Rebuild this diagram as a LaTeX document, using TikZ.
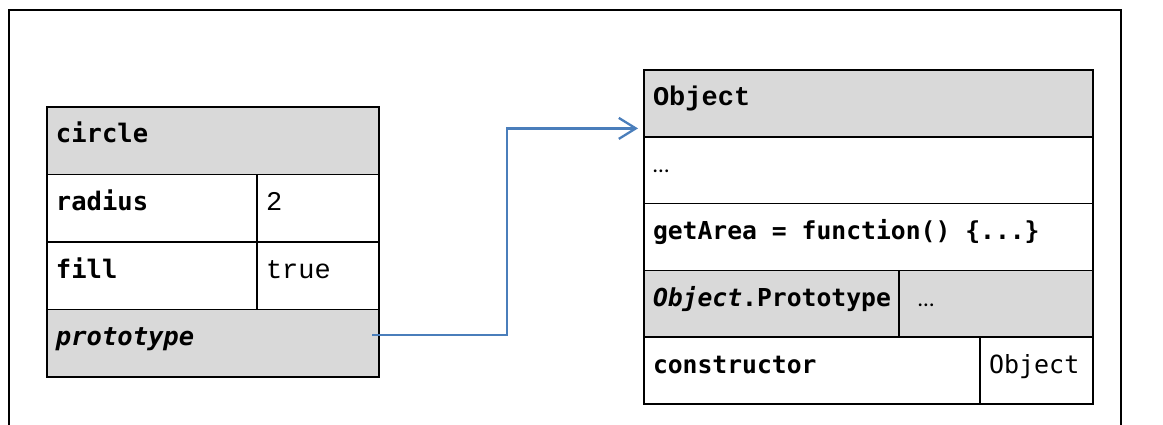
\documentclass[tikz,border=0pt]{standalone}
\usepackage{fontspec}
\usetikzlibrary{arrows.meta,calc}
\newfontfamily\codefont{DejaVu Sans Mono}
\newfontfamily\courfont{Liberation Mono}
\newfontfamily\bodyfont{Carlito}
\definecolor{cellgray}{HTML}{D9D9D9}
\definecolor{linkblue}{HTML}{4A7EBB}
% one full character cell of the code font
\newcommand\gap{\hspace*{0.602em}}
\tikzset{
  cell/.style={draw=black,line width=1.6pt,rectangle,anchor=north west,outer sep=0pt,
    inner xsep=9pt,inner ysep=0pt,text height=36pt,align=left},
  head/.style={cell,fill=cellgray},
  key/.style={font=\codefont\bfseries\fontsize{#1}{30}\selectfont},
  key/.default=25.5,
  plain/.style={font=\codefont\fontsize{25}{30}\selectfont},
  val/.style={font=\courfont\fontsize{27}{32}\selectfont},
  title/.style={font=\courfont\bfseries\fontsize{27}{32}\selectfont},
  dots/.style={font=\bodyfont\fontsize{23}{26}\selectfont},
  link/.style={draw=linkblue,line width=2.3pt,-{Straight Barb[length=17pt,width=21pt]}},
  frame/.style={draw=black,line width=1.8pt}
}
\begin{document}
\begin{tikzpicture}[x=1pt,y=-1pt]
\useasboundingbox (0,0) rectangle (1163,425);
\draw[frame] (9,425) |- (1121,10) -- (1121,425);

% the circle object
\begin{scope}[text depth=31.5pt]
\node[head,key,text width=314pt] (circ) at (47,107) {circle};
\node[cell,key,text width=192pt] (rad) at (circ.south west) {radius};
\node[cell,val,text width=104pt] (radval) at (rad.north east) {2};
\node[cell,key,text width=192pt] (fil) at (rad.south west) {fill};
\node[cell,val,text width=104pt] (filval) at (fil.north east) {true};
\node[head,key,text width=314pt] (proto) at (fil.south west) {\itshape prototype};
\end{scope}

% the prototype object
\begin{scope}[text depth=30.8pt]
\node[head,title,text width=431pt] (objhead) at (644,70) {Object};
\node[cell,dots,text width=431pt] (more) at (objhead.south west) {…};
\node[cell,key=24.7,text width=431pt] (area) at (more.south west) {getArea\gap=\gap function()\gap\{...\}};
\node[head,key=24.7,text width=237pt] (oproto) at (area.south west) {{\itshape Object}.Prototype};
\node[head,dots,text width=176pt] (oprotoval) at (oproto.north east) {\hspace*{10pt}…};
\node[cell,key=24.7,text width=318pt] (ctor) at (oproto.south west) {constructor};
\node[cell,plain,text width=95pt] (ctorval) at (ctor.north east) {Object};
\end{scope}

\coordinate (src) at ($(proto.east)+(-7,-8.5)$);
\coordinate (dst) at ($(objhead.west)+(-6,25)$);
\draw[link] (src) -- ++(135,0) |- (dst);
\end{tikzpicture}
\end{document}
